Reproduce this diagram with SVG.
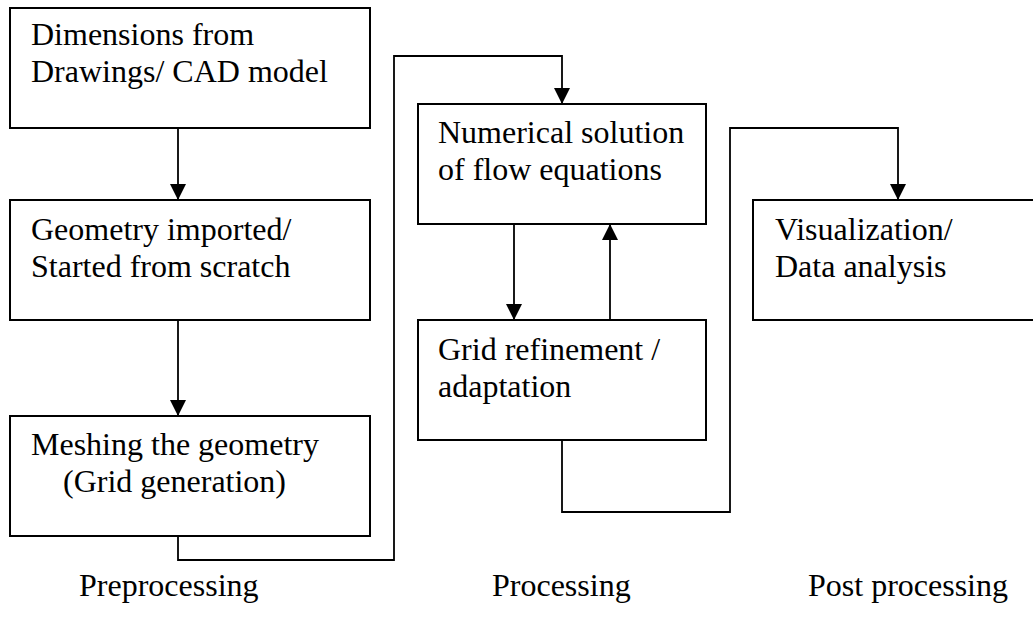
<svg xmlns="http://www.w3.org/2000/svg" width="1033" height="636" viewBox="0 0 1033 636">
  <style>
    .box { fill: #ffffff; stroke: #000000; stroke-width: 2; }
    .lbl { font-size: 32px; fill: #000000; }
    .wire { fill: none; stroke: #000000; stroke-width: 1.8; }
  </style>
  <defs>
    <marker id="head" markerUnits="userSpaceOnUse" markerWidth="18" markerHeight="18" refX="16" refY="8" orient="auto">
      <path d="M0,0 L16,8 L0,16 Z" fill="#000000"/>
    </marker>
  </defs>

  <rect width="1033" height="636" fill="#ffffff"/>

  <!-- connectors -->
  <g id="connectors">
    <path class="wire" d="M178,128 V200" marker-end="url(#head)"/>
    <path class="wire" d="M178,320 V416" marker-end="url(#head)"/>
    <path class="wire" d="M178,536 V560 H394 V56 H562 V104" marker-end="url(#head)"/>
    <path class="wire" d="M514,224 V320" marker-end="url(#head)"/>
    <path class="wire" d="M610,320 V224" marker-end="url(#head)"/>
    <path class="wire" d="M562,440 V512 H730 V128 H898 V200" marker-end="url(#head)"/>
  </g>

  <g font-family="Liberation Serif, Tinos, Times New Roman, DejaVu Serif, serif">
    <!-- preprocessing column -->
    <g id="dimensions">
      <rect class="box" x="10" y="8" width="360" height="120"/>
      <text class="lbl" x="31" y="45">Dimensions from</text>
      <text class="lbl" x="31" y="82">Drawings/ CAD model</text>
    </g>
    <g id="geometry">
      <rect class="box" x="10" y="200" width="360" height="120"/>
      <text class="lbl" x="31" y="240">Geometry imported/</text>
      <text class="lbl" x="31" y="277">Started from scratch</text>
    </g>
    <g id="meshing">
      <rect class="box" x="10" y="416" width="360" height="120"/>
      <text class="lbl" x="31" y="455">Meshing the geometry</text>
      <text class="lbl" x="63" y="492">(Grid generation)</text>
    </g>

    <!-- processing column -->
    <g id="solver">
      <rect class="box" x="418" y="104" width="288" height="120"/>
      <text class="lbl" x="438" y="143">Numerical solution</text>
      <text class="lbl" x="438" y="180">of flow equations</text>
    </g>
    <g id="refinement">
      <rect class="box" x="418" y="320" width="288" height="120"/>
      <text class="lbl" x="438" y="360">Grid refinement /</text>
      <text class="lbl" x="438" y="397">adaptation</text>
    </g>

    <!-- post processing column -->
    <g id="visualization">
      <rect class="box" x="753" y="200" width="292" height="120"/>
      <text class="lbl" x="775" y="240">Visualization/</text>
      <text class="lbl" x="775" y="277">Data analysis</text>
    </g>

    <!-- stage captions -->
    <g id="captions">
      <text class="lbl" x="79" y="596">Preprocessing</text>
      <text class="lbl" x="492" y="596">Processing</text>
      <text class="lbl" x="808" y="596">Post processing</text>
    </g>
  </g>
</svg>
